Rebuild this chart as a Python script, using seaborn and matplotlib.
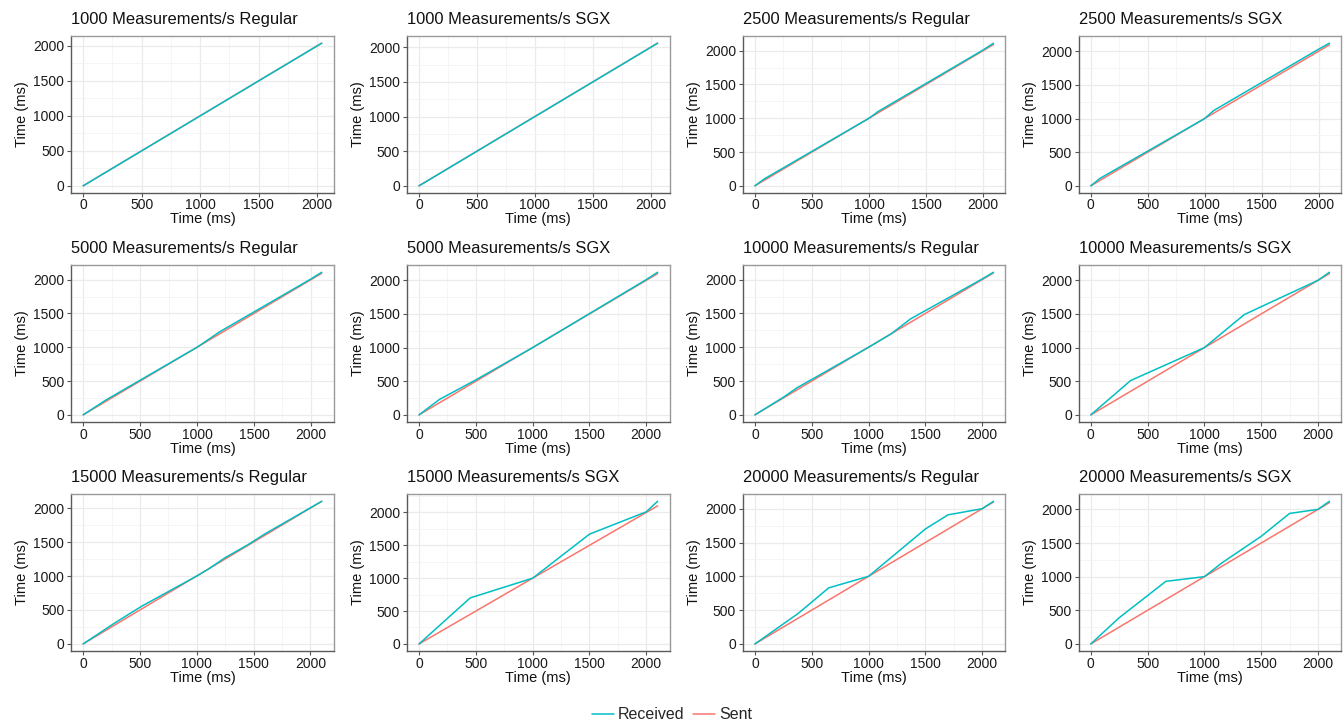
import matplotlib
matplotlib.use("Agg")
import matplotlib.pyplot as plt
from matplotlib.lines import Line2D
from matplotlib.ticker import MultipleLocator
import seaborn as sns
import pandas as pd

# ---- data ----
titles = [
    "1000 Measurements/s Regular", "1000 Measurements/s SGX",
    "2500 Measurements/s Regular", "2500 Measurements/s SGX",
    "5000 Measurements/s Regular", "5000 Measurements/s SGX",
    "10000 Measurements/s Regular", "10000 Measurements/s SGX",
    "15000 Measurements/s Regular", "15000 Measurements/s SGX",
    "20000 Measurements/s Regular", "20000 Measurements/s SGX",
]

sent_x = [
    [0, 2040], [0, 2060],
    [0, 2090], [0, 2095],
    [0, 2095], [0, 2100],
    [0, 2100], [0, 2100],
    [0, 2100], [0, 2100],
    [0, 2100], [0, 2100],
]
sent_y = [
    [0, 2040], [0, 2060],
    [0, 2090], [0, 2095],
    [0, 2095], [0, 2100],
    [0, 2100], [0, 2100],
    [0, 2100], [0, 2100],
    [0, 2100], [0, 2100],
]

recv_x = [
    [0, 2040],
    [0, 2060],
    [0, 80, 1000, 1080, 2000, 2090],
    [0, 80, 1000, 1080, 2000, 2095],
    [0, 200, 1000, 1200, 2000, 2095],
    [0, 180, 500, 1000, 2000, 2100],
    [0, 250, 370, 1000, 1200, 1370, 2000, 2100],
    [0, 350, 1000, 1350, 2000, 2100],
    [0, 270, 520, 1000, 1100, 1250, 1450, 1600, 2100],
    [0, 450, 1000, 1500, 2000, 2100],
    [0, 380, 650, 1000, 1500, 1700, 2000, 2100],
    [0, 250, 660, 1000, 1150, 1500, 1750, 2000, 2100],
]
recv_y = [
    [0, 2040],
    [0, 2060],
    [0, 100, 1000, 1100, 2010, 2110],
    [0, 110, 1000, 1120, 2030, 2120],
    [0, 220, 1000, 1230, 2010, 2110],
    [0, 230, 520, 1000, 2010, 2120],
    [0, 260, 400, 1000, 1200, 1420, 2010, 2110],
    [0, 510, 1000, 1490, 2000, 2120],
    [0, 300, 560, 1000, 1100, 1270, 1460, 1620, 2100],
    [0, 700, 1000, 1670, 2010, 2170],
    [0, 450, 830, 1000, 1700, 1910, 2000, 2110],
    [0, 390, 930, 1000, 1200, 1600, 1940, 2000, 2120],
]

series_names = ["Received", "Sent"]
colors = {"Received": "#00BFC4", "Sent": "#F8766D"}

# ---- style ----
sns.set_theme(style="white")
plt.rcParams["font.family"] = ["Liberation Sans", "DejaVu Sans"]

fig, axes = plt.subplots(3, 4, figsize=(13.44, 7.21), dpi=100)
fig.subplots_adjust(left=0.053, right=0.998, top=0.950, bottom=0.097,
                    wspace=0.28, hspace=0.46)

for i, ax in enumerate(axes.flat):
    df = pd.concat([
        pd.DataFrame({"x": sent_x[i], "y": sent_y[i], "series": "Sent"}),
        pd.DataFrame({"x": recv_x[i], "y": recv_y[i], "series": "Received"}),
    ])
    sns.lineplot(data=df, x="x", y="y", hue="series", palette=colors,
                 hue_order=["Sent", "Received"], sort=False, estimator=None,
                 linewidth=1.1, legend=False, ax=ax)
    ax.margins(0.05)
    ax.xaxis.set_major_locator(MultipleLocator(500))
    ax.yaxis.set_major_locator(MultipleLocator(500))
    ax.xaxis.set_minor_locator(MultipleLocator(250))
    ax.yaxis.set_minor_locator(MultipleLocator(250))
    ax.grid(True, which="major", color="#EBEBEB", linewidth=0.9)
    ax.grid(True, which="minor", color="#F4F4F4", linewidth=0.6)
    ax.set_axisbelow(True)
    ax.tick_params(which="major", direction="out", length=3, width=0.8,
                   color="#555555", labelsize=10, labelcolor="#1A1A1A", pad=2,
                   bottom=True, left=True)
    ax.tick_params(axis="x", which="major", pad=1)
    ax.tick_params(which="minor", length=0)
    for side in ["top", "right"]:
        ax.spines[side].set_color("#9A9A9A")
        ax.spines[side].set_linewidth(1.0)
    for side in ["bottom", "left"]:
        ax.spines[side].set_color("#5A5A5A")
        ax.spines[side].set_linewidth(1.0)
    ax.set_xlabel("Time (ms)", fontsize=10.5, color="#111111", labelpad=0)
    ax.set_ylabel("Time (ms)", fontsize=10.5, color="#111111", labelpad=3)
    ax.set_title(titles[i], loc="left", fontsize=11.9, color="#111111", pad=9)

handles = [Line2D([0], [0], color=colors[n], linewidth=1.1) for n in series_names]
fig.legend(handles, series_names, loc="lower center", ncol=2, frameon=False,
           fontsize=11.5, bbox_to_anchor=(0.5, -0.022), handlelength=1.4,
           handletextpad=0.25, columnspacing=0.5)

fig.savefig("out.png", dpi=100)
